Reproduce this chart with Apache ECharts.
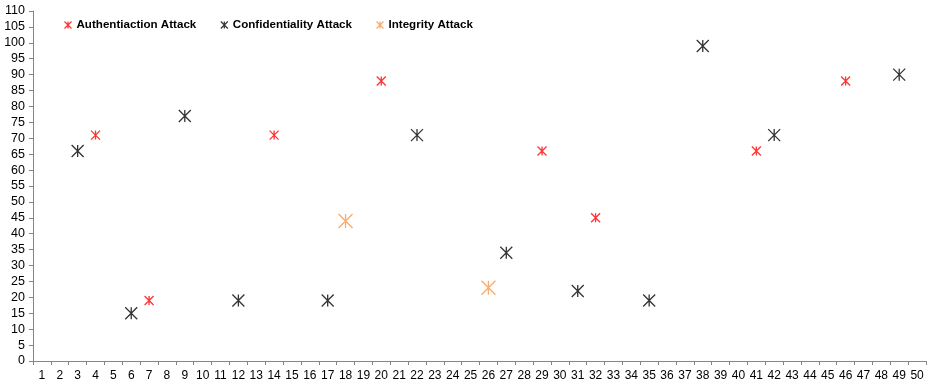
<!DOCTYPE html>
<html>
<head>
<meta charset="utf-8">
<script src="https://cdn.jsdelivr.net/npm/echarts@6/dist/echarts.min.js"></script>
<style>
  html, body { margin: 0; padding: 0; background: #fff; }
  #chart { width: 930px; height: 384px; }
</style>
</head>
<body>
<div id="chart"></div>
<script>
// Category labels 1..50 along the x axis
const categories = ['1','2','3','4','5','6','7','8','9','10','11','12','13','14','15','16','17','18','19','20',
  '21','22','23','24','25','26','27','28','29','30','31','32','33','34','35','36','37','38','39','40',
  '41','42','43','44','45','46','47','48','49','50'];

// [category, value] pairs for each attack type
const authentication = [['4', 71], ['7', 19], ['14', 71], ['20', 88], ['29', 66], ['32', 45], ['41', 66], ['46', 88]];
const confidentiality = [['3', 66], ['6', 15], ['9', 77], ['12', 19], ['17', 19], ['22', 71], ['27', 34], ['31', 22],
  ['35', 19], ['38', 99], ['42', 71], ['49', 90]];
const integrity = [['18', 44], ['26', 23]];

// Asterisk-style marker: an X with a vertical stroke through the middle
const starPath = 'path://M0,0L10,10M10,0L0,10M5,0L5,10';

const font = 'Liberation Sans, Arial, sans-serif';

function series(name, data, color, size) {
  return {
    name: name,
    type: 'scatter',
    data: data,
    symbol: starPath,
    symbolSize: size,
    itemStyle: { color: 'none', borderColor: color, borderWidth: 1.3 },
    emphasis: { disabled: true }
  };
}

const chart = echarts.init(document.getElementById('chart'));
chart.setOption({
  animation: false,
  textStyle: { fontFamily: font },
  legend: {
    left: 57,
    top: 14,
    itemWidth: 7,
    itemHeight: 7,
    itemGap: 22,
    textStyle: { fontFamily: font, fontSize: 11.6, fontWeight: 'bold', color: '#000' },
    data: [
      { name: 'Authentiaction Attack', icon: starPath, itemStyle: { color: 'none', borderColor: '#ff0000', borderWidth: 1.2 } },
      { name: 'Confidentiality Attack', icon: starPath, itemStyle: { color: 'none', borderColor: '#000000', borderWidth: 1.2 } },
      { name: 'Integrity Attack', icon: starPath, itemStyle: { color: 'none', borderColor: '#f79646', borderWidth: 1.2 } }
    ]
  },
  grid: { left: 33, right: 4, top: 11, bottom: 23, containLabel: false },
  xAxis: {
    type: 'category',
    data: categories,
    boundaryGap: true,
    axisLine: { lineStyle: { color: '#868686' } },
    axisTick: { show: true, interval: 0, length: 4, lineStyle: { color: '#868686' } },
    axisLabel: { interval: 0, color: '#000', fontSize: 12, margin: 9 },
    splitLine: { show: false }
  },
  yAxis: {
    type: 'value',
    min: 0,
    max: 110,
    interval: 5,
    axisLine: { show: true, lineStyle: { color: '#868686' } },
    axisTick: { show: true, length: 4, lineStyle: { color: '#868686' } },
    axisLabel: { color: '#000', fontSize: 12.5, margin: 8 },
    splitLine: { show: false }
  },
  series: [
    series('Authentiaction Attack', authentication, '#ff0000', 9),
    series('Confidentiality Attack', confidentiality, '#000000', 12),
    series('Integrity Attack', integrity, '#f79646', 14)
  ]
});
</script>
</body>
</html>
